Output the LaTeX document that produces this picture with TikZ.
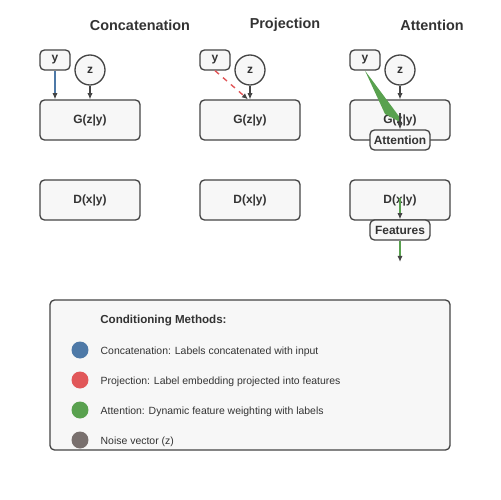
\documentclass[tikz,border=0pt]{standalone}
\usepackage{fontspec}
\setmainfont{Liberation Sans}
\usetikzlibrary{arrows.meta,positioning}
\definecolor{concat}{HTML}{4E79A7}
\definecolor{proj}{HTML}{E15759}
\definecolor{attn}{HTML}{59A14F}
\definecolor{noise}{HTML}{79706E}
\definecolor{boxfill}{HTML}{F7F7F7}
\definecolor{boxline}{HTML}{444444}
\definecolor{txt}{HTML}{333333}
\tikzset{
  block/.style={draw=boxline, fill=boxfill, rounded corners=2.5pt, line width=0.75pt,
    minimum width=2cm, minimum height=0.8cm, inner sep=0pt, text=txt,
    font=\fontsize{6.8}{8}\selectfont\bfseries},
  tag/.style={block, minimum width=0.6cm, minimum height=0.4cm},
  tagwide/.style={block, minimum width=1.2cm, minimum height=0.4cm},
  noisenode/.style={circle, draw=boxline, fill=boxfill, line width=0.75pt, minimum size=0.6cm,
    inner sep=0pt, text=txt, font=\fontsize{6.8}{8}\selectfont\bfseries},
  heading/.style={text=txt, font=\fontsize{8.2}{10}\selectfont\bfseries},
  legtext/.style={anchor=west, inner sep=0pt, text=txt, font=\fontsize{5.95}{7}\selectfont},
  dot/.style={circle, minimum size=0.34cm, inner sep=0pt},
  tip/.style={-{Latex[length=3.5pt,width=3pt,color=boxline]}}
}
\begin{document}
\begin{tikzpicture}[x=0.02cm, y=-0.02cm, line join=round]
	\useasboundingbox (0,0) rectangle (500,500);
	% column headings
	\node[heading] (tconcat) at (140,25) {Concatenation};
	\node[heading] (tproj) at (285,25) {Projection};
	\node[heading] (tattn) at (432,25) {Attention};
	% y, z, generator and discriminator of each column
	\foreach \c/\dx in {1/0,2/160,3/310} {
		\node[tag] (y\c) at (55+\dx,60) {y};
		\node[noisenode] (z\c) at (90+\dx,70) {z};
		\node[block] (g\c) at (90+\dx,120) {G(z|y)};
		\node[block] (d\c) at (90+\dx,200) {D(x|y)};
		\draw[tip, boxline, line width=0.6pt] (z\c) -- (g\c.north);
	}
	% concatenation
	\draw[tip, concat, line width=0.8pt] (y1.south) -- (y1.south |- g1.north);
	% projection
	\draw[tip, proj, dashed, line width=0.8pt] (y2.south) -- ([xshift=-0.04cm]g2.north);
	% attention
	\fill[attn] (y3.south) -- (401,119) -- (400,122) -- (385,114) -- cycle;
	\coordinate (gmid) at (400,113);
	\node[tagwide] (att) at (400,140) {Attention};
	\draw[tip, boxline, line width=0.6pt] (gmid) -- (att.north);
	\coordinate (dmid) at (400,198);
	\node[tagwide] (feat) at (400,230) {Features};
	\coordinate (out) at (400,262);
	\draw[tip, attn, line width=0.8pt] (dmid) -- (feat.north);
	\draw[tip, attn, line width=0.8pt] (feat.south) -- (out);
	% legend
	\node[block, minimum width=8cm, minimum height=3cm] (legend) at (250,375) {};
	\node[legtext, font=\fontsize{6.6}{8}\selectfont\bfseries] (legtitle) at (100,321) {Conditioning Methods:};
	\foreach \i/\col/\txt in {0/concat/{Concatenation: Labels concatenated with input},
		1/proj/{Projection: Label embedding projected into features},
		2/attn/{Attention: Dynamic feature weighting with labels},
		3/noise/{Noise vector (z)}} {
		\node[dot, fill=\col] (dot\i) at (80,350+30*\i) {};
		\node[legtext, right=0.23cm of dot\i, yshift=-0.03cm] (leg\i) {\txt};
	}
\end{tikzpicture}
\end{document}
